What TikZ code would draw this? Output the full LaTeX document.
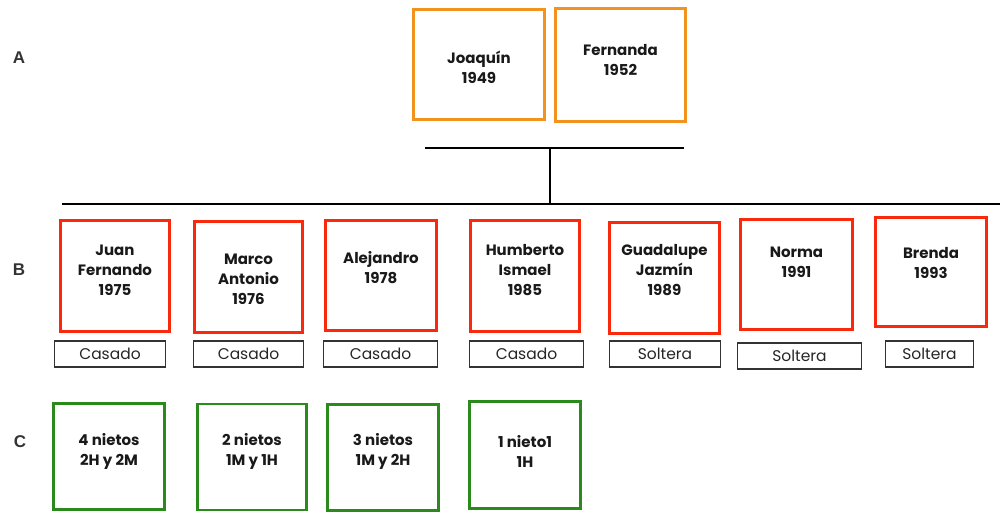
\documentclass[tikz,border=0pt]{standalone}
\usepackage{fontspec}
\setmainfont{Poppins}
\newfontfamily\labfont{Liberation Sans}
\definecolor{ora}{HTML}{F2921F}
\definecolor{redb}{HTML}{F8290C}
\definecolor{grn}{HTML}{2A8A1C}
\definecolor{labgray}{HTML}{333333}
\tikzset{
  base/.style={draw, rectangle, inner sep=0pt, fill=white},
  obox/.style={base, draw=ora, line width=3pt},
  rbox/.style={base, draw=redb, line width=3.6pt},
  gbox/.style={base, draw=grn, line width=2.6pt},
  sbox/.style={base, draw=black!80, line width=1.2pt, minimum height=26pt},
  btxt/.style={align=center, inner sep=0pt, font=\fontsize{15}{20}\selectfont\bfseries, text=black!90},
  stxt/.style={inner sep=0pt, font=\fontsize{15.5}{16}\selectfont, text=black!85},
  rowlab/.style={inner sep=0pt, font=\labfont\fontsize{17}{20}\selectfont\bfseries, text=labgray},
  conn/.style={line width=2.4pt, black}
}
\begin{document}
\begin{tikzpicture}[x=1pt,y=-1pt]
\useasboundingbox (0,0) rectangle (1000,514);
% row labels
\node[rowlab] (la) at (19,58) {A};
\node[rowlab] (lb) at (19,270) {B};
\node[rowlab] (lc) at (20,442) {C};
% parents
\node[obox, minimum width=131, minimum height=110] (joaquin) at (479,64.5) {};
\node[obox, minimum width=130, minimum height=113] (fernanda) at (620.5,65) {};
\node[btxt] (joaquin-t) at (479,67) {Joaquín\\1949};
\node[btxt] (fernanda-t) at (620.5,60) {Fernanda\\1952};
% connectors
\coordinate (tl) at (425,148);
\coordinate (tr) at (684,148);
\coordinate (tm) at (550,148);
\coordinate (bm) at (550,204);
\coordinate (bl) at (62,204);
\coordinate (br) at (1000,204);
\draw[conn] (tl) -- (tr);
\draw[conn] (tm) -- (bm);
\draw[conn] (bl) -- (br);
% children
\foreach \n/\cx/\cy/\w/\h/\ty/\t in {
  c1/115/276/109/111/270/{Juan\\Fernando\\1975},
  c2/248.5/277/108/111/279/{Marco\\Antonio\\1976},
  c3/381/275.5/111/110/268/{Alejandro\\1978},
  c4/525/276/109/111/270/{Humberto\\Ismael\\1985},
  c5/664.5/278/110/111/270/{Guadalupe\\Jazmín\\1989},
  c6/796.5/274.5/112/110/262/{Norma\\1991},
  c7/931/272/111/109/263/{Brenda\\1993}}{
  \node[rbox, minimum width=\w, minimum height=\h] (\n) at (\cx,\cy) {};
  \node[btxt] (\n-t) at (\cx,\ty) {\t};
}
% status
\foreach \n/\cx/\cy/\w/\t in {
  s1/110/354/111/Casado,
  s2/248.5/354/110/Casado,
  s3/380.5/354/114/Casado,
  s4/526.5/354/114/Casado,
  s5/665/354/111/Soltera,
  s6/799.5/356/124/Soltera,
  s7/929.5/354/88/Soltera}{
  \node[sbox, minimum width=\w] (\n) at (\cx,\cy) {};
  \node[stxt] (\n-t) at (\cx,\cy) {\t};
}
% grandchildren
\foreach \n/\cx/\cy/\w/\h/\t in {
  g1/109/456.5/111/106/{4 nietos\\2H y 2M},
  g2/252/457/109/106/{2 nietos\\1M y 1H},
  g3/383/457.5/111/106/{3 nietos\\1M y 2H},
  g4/525/455/111/107/{1 nieto1\\1H}}{
  \node[gbox, minimum width=\w, minimum height=\h] (\n) at (\cx,\cy) {};
  \node[btxt] (\n-t) at (\cx,451.5) {\t};
}
\end{tikzpicture}
\end{document}
